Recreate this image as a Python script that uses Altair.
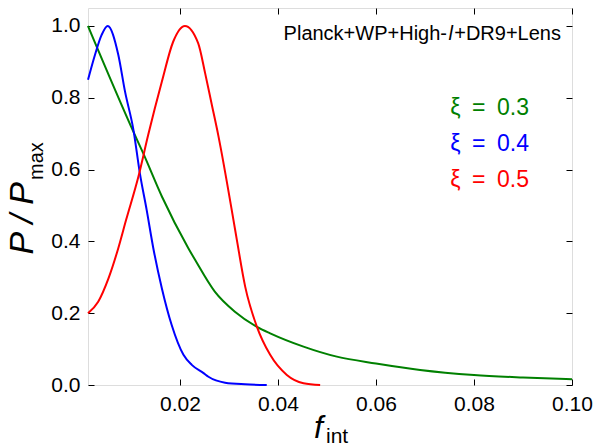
import altair as alt
import pandas as pd

# ---- data ----
green_x = [0.00122, 0.0108, 0.0125, 0.0163, 0.0217, 0.0231, 0.0271, 0.0312, 0.0357, 0.0384,
           0.0452, 0.052, 0.060, 0.069, 0.080, 0.090, 0.100]
green_y = [1.0, 0.696, 0.645, 0.525, 0.381, 0.348, 0.26, 0.204, 0.162, 0.144,
           0.107, 0.079, 0.060, 0.042, 0.028, 0.021, 0.016]

blue_x = [0.00122, 0.00265, 0.0040, 0.00524, 0.0074, 0.00878, 0.0105, 0.0118, 0.0132, 0.01455,
          0.0163, 0.0183, 0.0207, 0.0224, 0.0248, 0.0258, 0.0292, 0.0333, 0.0377]
blue_y = [0.85, 0.92, 0.975, 1.0, 0.92, 0.817, 0.71, 0.59, 0.487, 0.381,
          0.269, 0.167, 0.084, 0.056, 0.033, 0.023, 0.0065, 0.002, 0.0]

red_x = [0.00122, 0.0033, 0.0054, 0.0074, 0.009, 0.0115, 0.0135, 0.0163, 0.0186, 0.021,
         0.0237, 0.0251, 0.0265, 0.0278, 0.0309, 0.0316, 0.0333, 0.0357, 0.0384, 0.0418,
         0.0452, 0.0486]
red_y = [0.20, 0.232, 0.297, 0.381, 0.46, 0.58, 0.696, 0.845, 0.956, 1.0,
         0.952, 0.87, 0.78, 0.696, 0.46, 0.404, 0.274, 0.162, 0.084, 0.028,
         0.005, 0.0]

series_names = ["ξ\u2002=\u20020.3", "ξ\u2002=\u20020.4", "ξ\u2002=\u20020.5"]
series_colors = ["#008000", "#0000ff", "#ff0000"]
x_ticks = [0.02, 0.04, 0.06, 0.08, 0.10]
y_ticks = [0.0, 0.2, 0.4, 0.6, 0.8, 1.0]
title_parts = ["Planck+WP+High-", "l", "+DR9+Lens"]

# ---- layout ----
W, H = 484, 377
FONT = "Liberation Sans"

rows = []
for name, xs, ys in zip(series_names, [green_x, blue_x, red_x], [green_y, blue_y, red_y]):
    for i, (a, b) in enumerate(zip(xs, ys)):
        rows.append({"series": name, "f": a, "p": b, "order": i})
df = pd.DataFrame(rows)

xscale = alt.Scale(domain=[0.00122, 0.1], nice=False, zero=False)
yscale = alt.Scale(domain=[0, 1.05], nice=False, zero=False)
cscale = alt.Scale(domain=series_names, range=series_colors)

common_axis = dict(domain=False, grid=False, title=None, tickSize=6, tickColor="black",
                   tickWidth=1)

x_lab_axis = alt.Axis(orient="top", offset=-H, values=x_ticks, format=".2f",
                      labelFont=FONT, labelFontSize=21, labelColor="black",
                      labelPadding=-31, labelBaseline="alphabetic", labelFlush=False,
                      labelOverlap=False, **common_axis)
y_lab_axis = alt.Axis(orient="right", offset=-W, values=y_ticks, format=".1f",
                      labelFont=FONT, labelFontSize=21, labelColor="black",
                      labelPadding=-14, labelAlign="right", labelFlush=False,
                      labelOverlap=False, **common_axis)
x_tick_axis = alt.Axis(orient="bottom", offset=-H, values=x_ticks, labels=False, **common_axis)
y_tick_axis = alt.Axis(orient="left", offset=-W, values=y_ticks, labels=False, **common_axis)

lines = alt.Chart(df).mark_line(strokeWidth=2, interpolate="monotone").encode(
    x=alt.X("f:Q", scale=xscale, axis=x_lab_axis),
    y=alt.Y("p:Q", scale=yscale, axis=y_lab_axis),
    color=alt.Color("series:N", scale=cscale, legend=None),
    detail="series:N",
    order="order:Q",
)

ticks_layer = alt.Chart(df).mark_line(opacity=0).encode(
    x=alt.X("f:Q", scale=xscale, axis=x_tick_axis),
    y=alt.Y("p:Q", scale=yscale, axis=y_tick_axis),
    detail="series:N",
)

def label(text, x, y, size, color="black", align="left", baseline="alphabetic",
          style="normal", angle=0):
    return alt.Chart(pd.DataFrame({"t": [text]})).mark_text(
        font=FONT, fontSize=size, color=color, align=align, baseline=baseline,
        fontStyle=style, angle=angle,
    ).encode(text="t:N", x=alt.value(x), y=alt.value(y))

# title: "+DR9+Lens" right-aligned, italic l before it, then the rest
texts = [
    label(title_parts[2], 473, 32, 20, align="right"),
    label(title_parts[1], 365, 32, 20, align="right", style="italic"),
    label(title_parts[0], 359, 32, 20, align="right"),
]
for i, (name, col) in enumerate(zip(series_names, series_colors)):
    texts.append(label(name, 441, 100 + i * 36, 23, color=col, align="right", baseline="middle"))

# axis titles
texts.append(label("f", 226, 430, 32, style="italic"))
texts.append(label("int", 238, 435, 21))
texts.append(label("P / P", -55, 174, 34, style="italic", align="right", angle=270))
texts.append(label("max", -45, 172, 20, align="left", angle=270))

chart = alt.layer(ticks_layer, lines, *texts).resolve_axis(
    x="independent", y="independent"
).properties(
    width=W, height=H,
    autosize=alt.AutoSizeParams(type="none"),
    padding={"left": 88, "top": 8, "right": 24, "bottom": 61},
).configure_view(stroke="black", strokeWidth=1.2).configure(background="white")

chart.save("out.html", embed_options={"renderer": "svg", "actions": False})
